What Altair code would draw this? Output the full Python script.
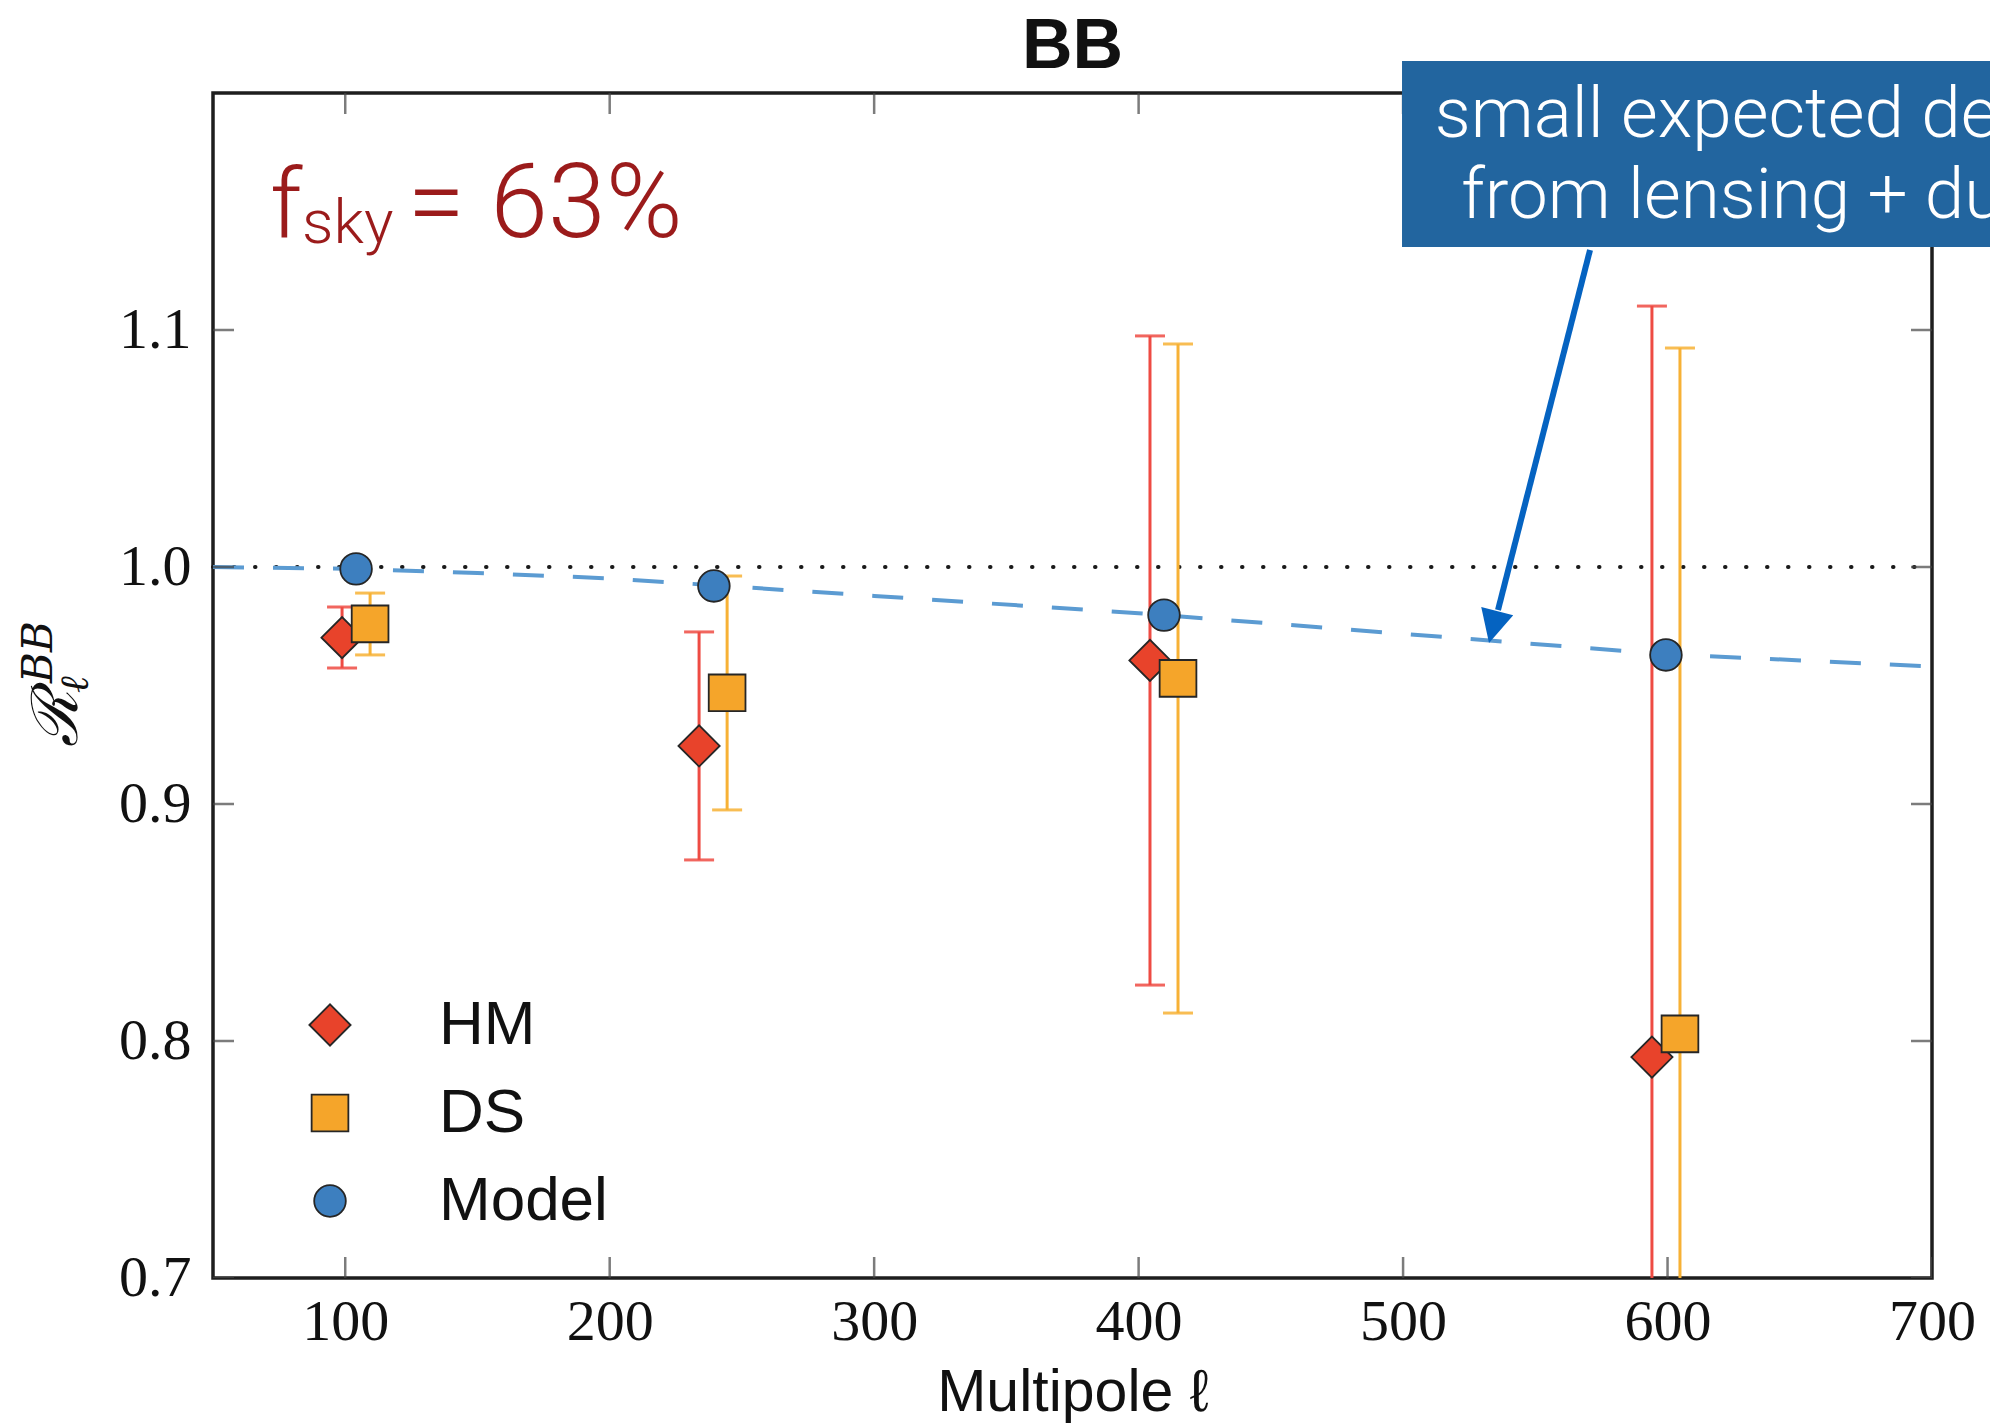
import altair as alt
import pandas as pd

# ---------------- data ----------------
series_names = ["HM", "DS", "Model"]
series_colors = ["#e8432b", "#f5a52a", "#3d7fbf"]
series_edges = ["#262626", "#262626", "#262626"]
series_shapes = ["diamond", "square", "circle"]
series_sizes = [1700, 1000, 950]

hm_ell = [98.8, 233.8, 404.3, 594.1]
hm_val = [0.9702, 0.9245, 0.9606, 0.7932]
hm_lo = [0.9574, 0.8764, 0.8236, 0.4763]
hm_hi = [0.9831, 0.9726, 1.0975, 1.1101]

ds_ell = [109.4, 244.4, 414.9, 604.7]
ds_val = [0.9760, 0.9469, 0.9530, 0.8030]
ds_lo = [0.9629, 0.8975, 0.8118, 0.5136]
ds_hi = [0.9890, 0.9962, 1.0941, 1.0924]

model_ell = [104.1, 239.4, 409.6, 599.4]
model_val = [0.9992, 0.9920, 0.9797, 0.9629]

curve_ell = [50, 100, 150, 200, 300, 400, 500, 600, 700]
curve_val = [1.0, 0.9993, 0.9975, 0.9952, 0.9878, 0.9805, 0.9718, 0.9632, 0.9580]

ref_ell = [50, 700]
ref_val = [1.0, 1.0]

x_ticks = [100, 200, 300, 400, 500, 600, 700]
y_ticks = [0.7, 0.8, 0.9, 1.0, 1.1]
x_domain = [50, 700]
y_domain = [0.7, 1.2]

# annotation anchors (data units)
box_ell = [499.6, 780]
box_val = [1.135, 1.2135]
box_lines = ["small expected decorrelation", "from lensing + dust"]
box_line_ell = [512, 522]
box_line_val = [1.1814, 1.1473]
arrow_ell = [570.7, 535.9]
arrow_val = [1.1338, 0.9819]
arrow_tip = [532.5, 0.9679]

# ---------------- tables ----------------
pts = pd.DataFrame({
    "ell": hm_ell + ds_ell + model_ell,
    "val": hm_val + ds_val + model_val,
    "series": ["HM"] * 4 + ["DS"] * 4 + ["Model"] * 4,
})
hm_err = pd.DataFrame({"ell": hm_ell, "lo": hm_lo, "hi": hm_hi})
ds_err = pd.DataFrame({"ell": ds_ell, "lo": ds_lo, "hi": ds_hi})
curve = pd.DataFrame({"ell": curve_ell, "val": curve_val})
ref = pd.DataFrame({"ell": ref_ell, "val": ref_val})

xs = alt.Scale(domain=x_domain, nice=False, zero=False)
ys = alt.Scale(domain=y_domain, nice=False, zero=False)

SERIF = "Liberation Serif"
SANS = "Liberation Sans"
LIGHT = "Roboto"

x_axis = alt.Axis(
    values=x_ticks, title="Multipole ℓ", grid=False, domain=False, ticks=False,
    labelFont=SERIF, labelFontSize=58, labelColor="#111111", labelPadding=15, labelFlush=False,
    titleFont=SANS, titleFontSize=59, titleFontWeight="normal", titleColor="#111111",
    titlePadding=12)
y_axis = alt.Axis(
    values=y_ticks, format=".1f", title=None, grid=False, domain=False, ticks=False,
    labelFont=SERIF, labelFontSize=58, labelColor="#111111", labelPadding=22, labelFlush=False)

def X(field="ell"):
    return alt.X(f"{field}:Q", scale=xs, axis=x_axis, title="Multipole ℓ")

def Y(field="val"):
    return alt.Y(f"{field}:Q", scale=ys, axis=y_axis, title=None)

ref_line = alt.Chart(ref).mark_line(
    color="#1a1a1a", strokeWidth=4, strokeDash=[0.5, 20.5], strokeCap="round"
).encode(x=X(), y=Y())

model_curve = alt.Chart(curve).mark_line(
    color="#5b9bd2", strokeWidth=4, strokeDash=[31, 29]
).encode(x=X(), y=Y())

def errbars(df, color):
    bars = alt.Chart(df).mark_rule(color=color, strokeWidth=3, clip=True).encode(
        x=X(), y=Y("lo"), y2="hi:Q")
    cap_lo = alt.Chart(df).mark_tick(orient="horizontal", size=30, thickness=3,
                                     color=color, opacity=0.85, clip=True).encode(x=X(), y=Y("lo"))
    cap_hi = alt.Chart(df).mark_tick(orient="horizontal", size=30, thickness=3,
                                     color=color, opacity=0.85, clip=True).encode(x=X(), y=Y("hi"))
    return bars + cap_lo + cap_hi

hm_bars = errbars(hm_err, "#ee4b43")
ds_bars = errbars(ds_err, "#f7b135")

legend = alt.Legend(
    title=None, orient="none", legendX=86, legendY=901, padding=0,
    rowPadding=26, labelOffset=78, labelFont=SANS, labelFontSize=62, labelLimit=500,
    labelColor="#111111", symbolStrokeWidth=1.8, symbolOpacity=1,
)
points = alt.Chart(pts).mark_point(
    filled=True, strokeWidth=1.8, opacity=1
).encode(
    x=X(), y=Y(),
    fill=alt.Fill("series:N", scale=alt.Scale(domain=series_names, range=series_colors), legend=legend),
    stroke=alt.Stroke("series:N", scale=alt.Scale(domain=series_names, range=series_edges), legend=legend),
    shape=alt.Shape("series:N", scale=alt.Scale(domain=series_names, range=series_shapes), legend=legend),
    size=alt.Size("series:N", scale=alt.Scale(domain=series_names, range=series_sizes), legend=legend),
)

# inward frame ticks (half clipped by the frame)
tick_color = "#444444"
xt_df = pd.DataFrame({"ell": x_ticks * 2, "val": [y_domain[0]] * len(x_ticks) + [y_domain[1]] * len(x_ticks)})
yt_df = pd.DataFrame({"ell": [x_domain[0]] * len(y_ticks) + [x_domain[1]] * len(y_ticks), "val": y_ticks * 2})
xticks = alt.Chart(xt_df).mark_tick(orient="vertical", size=42, thickness=2.5, color=tick_color, clip=True).encode(x=X(), y=Y())
yticks = alt.Chart(yt_df).mark_tick(orient="horizontal", size=42, thickness=2.5, color=tick_color, clip=True).encode(x=X(), y=Y())

# f_sky annotation
fsky_df = pd.DataFrame({"ell": [71.6, 83.7, 123.5], "val": [1.1392, 1.1367, 1.1392],
                        "txt": ["f", "sky", "= 63%"], "fs": [97, 62, 104]})
fsky = alt.Chart(fsky_df).mark_text(
    font=LIGHT, fontWeight=300, color="#9b1b1b", align="left", baseline="alphabetic", clip=False
).encode(x=X(), y=Y(), text="txt:N", size=alt.Size("fs:Q", scale=None, legend=None))

# y-axis label  R_l^BB  (rotated)
ylab_df = pd.DataFrame({"ell": [-1.5, -10.9, 2.7], "val": [0.9240, 0.9511, 0.9468],
                        "txt": ["ℛ", "BB", "ℓ"], "fs": [64, 42, 40]})
ylab = alt.Chart(ylab_df).mark_text(
    font="DejaVu Serif", fontStyle="italic", color="#111111", angle=270,
    align="left", baseline="alphabetic", clip=False
).encode(x=X(), y=Y(), text="txt:N", size=alt.Size("fs:Q", scale=None, legend=None))

# blue callout box
box_df = pd.DataFrame({"x1": [box_ell[0]], "x2": [box_ell[1]], "y1": [box_val[0]], "y2": [box_val[1]]})
box = alt.Chart(box_df).mark_rect(color="#22659f", clip=False).encode(
    x=X("x1"), x2="x2:Q", y=Y("y1"), y2="y2:Q")
box_txt_df = pd.DataFrame({"ell": box_line_ell, "val": box_line_val, "txt": box_lines})
box_txt = alt.Chart(box_txt_df).mark_text(
    font=LIGHT, fontWeight=300, fontSize=71, color="white", align="left", baseline="alphabetic", clip=False
).encode(x=X(), y=Y(), text="txt:N")

arrow_df = pd.DataFrame({"ell": arrow_ell, "val": arrow_val})
arrow_line = alt.Chart(arrow_df).mark_line(color="#0563c1", strokeWidth=6, clip=False).encode(x=X(), y=Y())
head_df = pd.DataFrame({"ell": [arrow_tip[0]], "val": [arrow_tip[1]]})
arrow_head = alt.Chart(head_df).mark_point(
    shape="M0,0L-1,-2L1,-2Z", size=1089, angle=14.4, filled=True, color="#0563c1", opacity=1, clip=False
).encode(x=X(), y=Y())

chart = alt.layer(
    ref_line, model_curve, hm_bars, ds_bars, xticks, yticks, points,
    fsky, ylab, box, box_txt, arrow_line, arrow_head,
).properties(
    width=1719, height=1185,
    padding={"left": 213, "top": 93, "right": 58, "bottom": 147},
    autosize=alt.AutoSizeParams(type="none"),
    background="white",
    title=alt.TitleParams("BB", font=SANS, fontSize=70, fontWeight="bold", color="#111111",
                          anchor="middle", frame="group", baseline="alphabetic", offset=-77),
).configure_view(
    stroke="#1e1e1e", strokeWidth=3.5
)

chart.save("out.html", embed_options={"renderer": "svg", "actions": False})
